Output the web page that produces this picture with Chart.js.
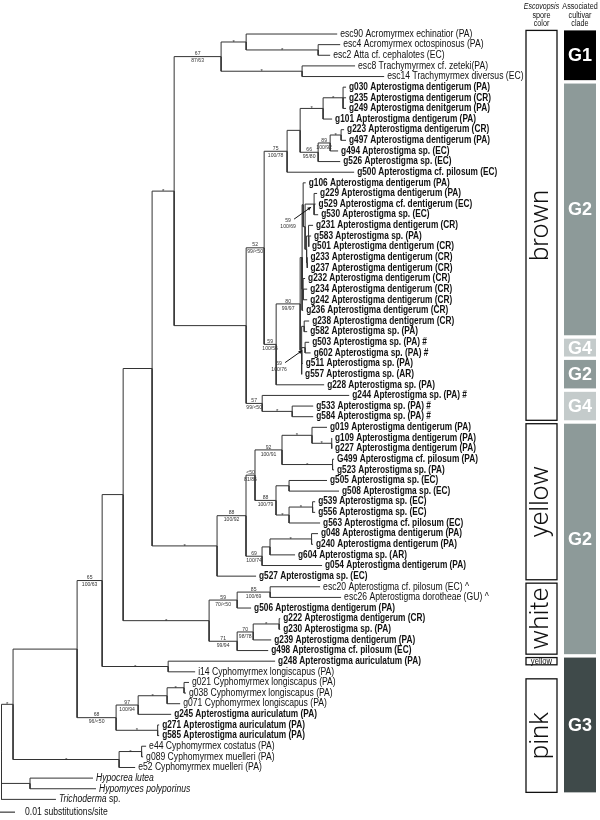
<!DOCTYPE html>
<html>
<head>
<meta charset="utf-8">
<script src="https://cdn.jsdelivr.net/npm/chart.js@4.4.1/dist/chart.umd.min.js"></script>
<style>
  html, body { margin: 0; padding: 0; background: #fff; }
  #tree { display: block; }
</style>
</head>
<body>
<canvas id="tree" width="600" height="820"></canvas>
<script>
// Escovopsis phylogeny with spore colour and cultivar clade columns
// Branch lengths are in substitutions/site

// Leaves, top to bottom
const leafNames = [
  'esc90 Acromyrmex echinatior (PA)', 'esc4 Acromyrmex octospinosus (PA)', 'esc2 Atta cf. cephalotes (EC)',
  'esc8 Trachymyrmex cf. zeteki(PA)', 'esc14 Trachymyrmex diversus (EC)',
  'g030 Apterostigma dentigerum (PA)', 'g235 Apterostigma dentigerum (CR)', 'g249 Apterostigma denitgerum (PA)',
  'g101 Apterostigma dentigerum (PA)', 'g223 Apterostigma dentigerum (CR)', 'g497 Apterostigma dentigerum (PA)',
  'g494 Apterostigma sp. (EC)', 'g526 Apterostigma sp. (EC)', 'g500 Apterostigma cf. pilosum (EC)',
  'g106 Apterostigma dentigerum (PA)', 'g229 Apterostigma dentigerum (PA)', 'g529 Apterostigma cf. dentigerum (EC)',
  'g530 Apterostigma sp. (EC)', 'g231 Apterostigma dentigerum (CR)', 'g583 Apterostigma sp. (PA)',
  'g501 Apterostigma dentigerum (CR)', 'g233 Apterostigma dentigerum (CR)', 'g237 Apterostigma dentigerum (CR)',
  'g232 Apterostigma dentigerum (CR)', 'g234 Apterostigma dentigerum (CR)', 'g242 Apterostigma dentigerum (CR)',
  'g236 Apterostigma dentigerum (CR)', 'g238 Apterostigma dentigerum (CR)', 'g582 Apterostigma sp. (PA)',
  'g503 Apterostigma sp. (PA) #', 'g602 Apterostigma sp. (PA) #', 'g511 Apterostigma sp. (PA)',
  'g557 Apterostigma sp. (AR)', 'g228 Apterostigma sp. (PA)', 'g244 Apterostigma sp. (PA) #',
  'g533 Apterostigma sp. (PA) #', 'g584 Apterostigma sp. (PA) #',
  'g019 Apterostigma dentigerum (PA)', 'g109 Apterostigma dentigerum (PA)', 'g227 Apterostigma dentigerum (PA)',
  'G499 Apterostigma cf. pilosum (PA)', 'g523 Apterostigma sp. (PA)', 'g505 Apterostigma sp. (EC)',
  'g508 Apterostigma sp. (EC)', 'g539 Apterostigma sp. (EC)', 'g556 Apterostigma sp. (EC)',
  'g563 Apterostigma cf. pilosum (EC)', 'g048 Apterostigma dentigerum (PA)', 'g240 Apterostigma dentigerum (PA)',
  'g604 Apterostigma sp. (AR)', 'g054 Apterostigma dentigerum (PA)', 'g527 Apterostigma sp. (EC)',
  'esc20 Apterostigma cf. pilosum (EC) ^', 'esc26 Apterostigma dorotheae (GU) ^', 'g506 Apterostigma dentigerum (PA)',
  'g222 Apterostigma dentigerum (CR)', 'g230 Apterostigma sp. (PA)', 'g239 Apterostigma dentigerum (PA)',
  'g498 Apterostigma cf. pilosum (EC)', 'g248 Apterostigma auriculatum (PA)', 'i14 Cyphomyrmex longiscapus (PA)',
  'g021 Cyphomyrmex longiscapus (PA)', 'g038 Cyphomyrmex longiscapus (PA)', 'g071 Cyphomyrmex longiscapus (PA)',
  'g245 Apterostigma auriculatum (PA)', 'g271 Apterostigma auriculatum (PA)', 'g585 Apterostigma auriculatum (PA)',
  'e44 Cyphomyrmex costatus (PA)', 'g089 Cyphomyrmex muelleri (PA)', 'e52 Cyphomyrmex muelleri (PA)',
  'Hypocrea lutea', 'Hypomyces polyporinus', 'Trichoderma sp.'
];

const leafParents = [
  'H1', 'H1b', 'H1b', 'H2', 'H2',
  'K1a1', 'K1a1', 'K1a1', 'K1a', 'K1b1a', 'K1b1a', 'K1b1', 'K1b', 'K',
  'A1', 'N59', 'N59', 'N59', 'A4', 'A4', 'A4', 'A5', 'A5', 'B1b', 'B1b', 'B1b', 'M1',
  'U1', 'U1', 'N69', 'N69', 'M2', 'M2', 'L', 'J', 'J2', 'J2',
  'Q1', 'Q1b', 'Q1b', 'Q2', 'Q2', 'V1', 'V1', 'V2a', 'V2a', 'V2', 'P1a', 'P1a', 'P1', 'P', 'D1b',
  'S1', 'S1', 'S', 'T1a', 'T1a', 'T1', 'T',
  'E', 'E', 'F2', 'F2', 'F1', 'F', 'G', 'G', 'C1', 'C1', 'C', 'HH', 'HH', 'root'
];

const leafLengths = [
  0.0607, 0.0147, 0.0080, 0.0353, 0.0547,
  0.0020, 0.0020, 0.0020, 0.0060, 0.0020, 0.0033, 0.0053, 0.0147, 0.0447,
  0.0017, 0.0020, 0.0010, 0.0027, 0.0030, 0.0017, 0.0003, 0.0003, 0.0003, 0.0013, 0.0027, 0.0027, 0.0007,
  0.0033, 0.0020, 0.0027, 0.0037, 0.0007, 0.0003, 0.0320, 0.0580, 0.0140, 0.0140,
  0.0100, 0.0003, 0.0003, 0.0010, 0.0010, 0.0253, 0.0333, 0.0017, 0.0017, 0.0207, 0.0043, 0.0010, 0.0167, 0.0400, 0.0260,
  0.0333, 0.0473, 0.0093, 0.0007, 0.0007, 0.0120, 0.0207,
  0.0713, 0.0180, 0.0033, 0.0013, 0.0087, 0.0220, 0.0010, 0.0010, 0.0030, 0.0010, 0.0107, 0.0420, 0.0440, 0.0363
];

// Internal nodes
const nodeIds = [
  'A', 'B', 'B1', 'D', 'D1', 'D1a', 'D1a1', 'H1', 'H1b', 'H2', 'D1a2', 'I', 'K', 'K1', 'K1a', 'K1a1',
  'K1b', 'K1b1', 'K1b1a', 'L', 'M', 'M1', 'A1', 'A2', 'N59', 'A3', 'A4', 'A5', 'B1b', 'M2', 'U1', 'N69',
  'J', 'J2', 'D1b', 'N', 'O', 'Q', 'Q1', 'Q1b', 'Q2', 'V', 'V1', 'V2', 'V2a', 'P', 'P1', 'P1a',
  'D2', 'S', 'S1', 'T', 'T1', 'T1a', 'E', 'B2', 'F', 'F1', 'F2', 'G', 'C', 'C1', 'HH'
];

const nodeParents = [
  'root', 'A', 'B', 'B1', 'D', 'D1', 'D1a', 'D1a1', 'H1', 'D1a1', 'D1a', 'D1a2', 'I', 'K', 'K1', 'K1a',
  'K1', 'K1b', 'K1b1', 'I', 'L', 'M', 'M1', 'A1', 'A2', 'A2', 'A3', 'A3', 'M1', 'M', 'M2', 'M2',
  'D1a2', 'J', 'D1', 'D1b', 'N', 'O', 'Q', 'Q1', 'Q', 'O', 'V', 'V', 'V2', 'N', 'P', 'P1',
  'D', 'D2', 'S', 'D2', 'T', 'T1', 'B1', 'B', 'B2', 'F', 'F1', 'B2', 'A', 'C', 'root'
];

const nodeLengths = [
  0.0077, 0.0427, 0.0167, 0.0140, 0.0193, 0.0147, 0.0313, 0.0167, 0.0480, 0.0540, 0.0480, 0.0120, 0.0153, 0.0087, 0.0153, 0.0133,
  0.0120, 0.0080, 0.0073, 0.0080, 0.0160, 0.0013, 0.0007, 0.0013, 0.0060, 0.0010, 0.0013, 0.0003, 0.0007, 0.0010, 0.0017, 0.0023,
  0.0107, 0.0200, 0.0433, 0.0193, 0.0060, 0.0180, 0.0200, 0.0130, 0.0337, 0.0140, 0.0087, 0.0087, 0.0157, 0.0107, 0.0053, 0.0277,
  0.0573, 0.0187, 0.0220, 0.0187, 0.0107, 0.0173, 0.0440, 0.0260, 0.0147, 0.0193, 0.0113, 0.0277, 0.0707, 0.0150, 0.0190
];

// Support: top = bootstrap / '*', bottom = second pair of values
const supportTop = [
  '*', '', '65', '', '', '*', '67', '*', '*', '*', '', '52', '75', '', '*', '*',
  '66', '89', '*', '59', '80', '', '', '', '59', '', '', '', '', '', '', '69',
  '57', '*', '*', '88', '<50', '92', '*', '*', '*', '88', '', '*', '*', '69', '', '*',
  '*', '59', '85', '71', '70', '*', '*', '68', '97', '*', '*', '*', '*', '*', ''
];

const supportBottom = [
  '', '', '100/63', '', '', '', '87/63', '', '', '', '', '99/<50', '100/78', '', '', '',
  '95/80', '100/92', '', '100/56', '99/97', '', '', '', '100/69', '', '', '', '', '', '', '100/76',
  '99/<50', '', '', '100/92', '81/86', '100/91', '', '', '', '100/79', '', '', '', '100/74', '', '',
  '', '70/<50', '100/69', '99/94', '98/78', '', '', '96/<50', '100/94', '', '', '', '', '', ''
];

// Supports drawn beside the tree with an arrow
const arrowNodes = ['N59', 'N69'];

// Right-hand columns (leaf index ranges)
const sporeColors = ['brown', 'yellow', 'white', 'yellow', 'pink'];
const sporeFirst = [0, 37, 52, 59, 61];
const sporeLast = [36, 51, 58, 59, 71];

const cultivarClades = ['G1', 'G2', 'G4', 'G2', 'G4', 'G2', 'G3'];
const cladeFirst = [0, 5, 29, 31, 34, 37, 59];
const cladeLast = [4, 28, 30, 33, 36, 58, 71];

const scaleBarValue = 0.01;
const scaleBarText = '0.01 substitutions/site';

// ---- build the tree ----
const nodes = { root: { id: 'root', parent: null, len: 0, children: [] } };
nodeIds.forEach((id, i) => {
  nodes[id] = { id, parent: nodeParents[i], len: nodeLengths[i], top: supportTop[i], bottom: supportBottom[i], children: [] };
});
leafNames.forEach((name, i) => {
  nodes['leaf' + i] = { id: 'leaf' + i, parent: leafParents[i], len: leafLengths[i], leaf: i, children: [] };
});
Object.values(nodes).forEach(n => {
  if (n.parent) nodes[n.parent].children.push(n);
});

function setDepth(n, d) {
  n.depth = d + n.len;
  n.children.forEach(c => setDepth(c, n.depth));
}
function setY(n) {
  if (n.leaf !== undefined) {
    n.y = n.leaf;
    return n.y;
  }
  const ys = n.children.map(setY);
  n.y = (Math.min(...ys) + Math.max(...ys)) / 2;
  return n.y;
}
setDepth(nodes.root, 0);
setY(nodes.root);

// One elbow per branch: down the parent's vertical, then across to the child
const datasets = [];
Object.values(nodes).forEach(n => {
  if (!n.parent) return;
  const p = nodes[n.parent];
  datasets.push({
    data: [
      { x: p.depth, y: p.y },
      { x: p.depth, y: n.y },
      { x: n.depth, y: n.y }
    ],
    showLine: true,
    borderColor: '#333',
    borderWidth: 1,
    pointRadius: 0,
    tension: 0
  });
});

// ---- text helpers ----
const SANS = '"Liberation Sans", Arial, sans-serif';

function squeezeText(ctx, text, x, y, font, sx, align) {
  ctx.save();
  ctx.font = font;
  ctx.textAlign = align || 'left';
  ctx.translate(x, y);
  ctx.scale(sx, 1);
  ctx.fillText(text, 0, 0);
  const w = ctx.measureText(text).width * sx;
  ctx.restore();
  return w;
}

const cladeShades = { G1: '#000000', G2: '#8d9a99', G3: '#3f4a4a', G4: '#c4cbcb' };

const treeText = {
  id: 'treeText',
  afterDatasetsDraw(chart) {
    const ctx = chart.ctx;
    const xs = chart.scales.x;
    const ys = chart.scales.y;
    const px = v => xs.getPixelForValue(v);
    const py = v => ys.getPixelForValue(v);

    ctx.save();
    ctx.fillStyle = '#111';
    ctx.textBaseline = 'middle';

    // leaf names
    leafNames.forEach((name, i) => {
      const n = nodes['leaf' + i];
      const x = px(n.depth) + 3;
      const y = py(n.y);
      if (!/^[A-Za-z]+\d+ /.test(name)) {
        if (name.endsWith(' sp.')) {
          const w = squeezeText(ctx, name.slice(0, -4), x, y, 'italic 10px ' + SANS, 0.86);
          squeezeText(ctx, ' sp.', x + w, y, '10px ' + SANS, 0.86);
        } else {
          squeezeText(ctx, name, x, y, 'italic 10px ' + SANS, 0.86);
        }
      } else if (/^[gG]\d+ Apterostigma/.test(name)) {
        squeezeText(ctx, name, x, y, 'bold 10px ' + SANS, 0.83);
      } else {
        squeezeText(ctx, name, x, y, '10px ' + SANS, 0.86);
      }
    });

    // support values
    ctx.fillStyle = '#333';
    nodeIds.forEach(id => {
      const n = nodes[id];
      if (!n.top && !n.bottom) return;
      const p = nodes[n.parent];
      const y = py(n.y);
      if (arrowNodes.includes(id)) {
        const nx = px(n.depth), ny = y;
        ctx.textBaseline = 'middle';
        squeezeText(ctx, n.top, nx - 26, ny + 16, '6px ' + SANS, 0.85, 'center');
        squeezeText(ctx, n.bottom, nx - 26, ny + 22, '6px ' + SANS, 0.85, 'center');
        const x0 = nx - 20, y0 = ny + 15, x1 = nx - 3, y1 = ny + 3;
        ctx.strokeStyle = '#111';
        ctx.lineWidth = 1;
        ctx.beginPath();
        ctx.moveTo(x0, y0);
        ctx.lineTo(x1, y1);
        ctx.stroke();
        const a = Math.atan2(y1 - y0, x1 - x0);
        ctx.beginPath();
        ctx.moveTo(x1, y1);
        ctx.lineTo(x1 - 4 * Math.cos(a - 0.45), y1 - 4 * Math.sin(a - 0.45));
        ctx.lineTo(x1 - 4 * Math.cos(a + 0.45), y1 - 4 * Math.sin(a + 0.45));
        ctx.closePath();
        ctx.fillStyle = '#111';
        ctx.fill();
        ctx.fillStyle = '#333';
        return;
      }
      const mid = (px(p.depth) + px(n.depth)) / 2;
      if (n.top === '*') {
        ctx.textBaseline = 'alphabetic';
        squeezeText(ctx, '*', mid, y + 2, '6px ' + SANS, 1, 'center');
      } else {
        ctx.textBaseline = 'bottom';
        squeezeText(ctx, n.top, mid, y, '6px ' + SANS, 0.85, 'center');
        ctx.textBaseline = 'top';
        squeezeText(ctx, n.bottom, mid, y + 1, '6px ' + SANS, 0.85, 'center');
      }
    });

    // scale bar
    const sy = py(73.2);
    const bar = px(scaleBarValue) - px(0);
    ctx.strokeStyle = '#111';
    ctx.lineWidth = 1;
    ctx.beginPath();
    ctx.moveTo(xs.left, sy);
    ctx.lineTo(xs.left + bar, sy);
    ctx.stroke();
    ctx.fillStyle = '#111';
    ctx.textBaseline = 'middle';
    squeezeText(ctx, scaleBarText, xs.left + 25, sy, '10px ' + SANS, 0.86);

    // right-hand columns
    const sporeX = 526, sporeW = 31, cladeX = 564, cladeW = 32, pad = 0.34;

    ctx.textBaseline = 'middle';
    squeezeText(ctx, 'Escovopsis', sporeX + sporeW / 2, 7, 'italic 8.5px ' + SANS, 0.82, 'center');
    squeezeText(ctx, 'spore', sporeX + sporeW / 2, 15.5, '8.5px ' + SANS, 0.85, 'center');
    squeezeText(ctx, 'color', sporeX + sporeW / 2, 24, '8.5px ' + SANS, 0.85, 'center');
    squeezeText(ctx, 'Associated', cladeX + cladeW / 2, 7, '8.5px ' + SANS, 0.85, 'center');
    squeezeText(ctx, 'cultivar', cladeX + cladeW / 2, 15.5, '8.5px ' + SANS, 0.85, 'center');
    squeezeText(ctx, 'clade', cladeX + cladeW / 2, 24, '8.5px ' + SANS, 0.85, 'center');

    sporeColors.forEach((label, i) => {
      const top = py(sporeFirst[i] - pad);
      const bottom = py(sporeLast[i] + pad);
      ctx.strokeStyle = '#111';
      ctx.lineWidth = 1.3;
      ctx.strokeRect(sporeX, top, sporeW, bottom - top);
      ctx.fillStyle = '#111';
      const cx = sporeX + sporeW / 2, cy = (top + bottom) / 2;
      if (bottom - top > 40) {
        ctx.save();
        ctx.translate(cx, cy);
        ctx.rotate(-Math.PI / 2);
        ctx.font = '300 26px Roboto, ' + SANS;
        ctx.textAlign = 'center';
        ctx.textBaseline = 'middle';
        ctx.fillText(label, 0, 0);
        ctx.restore();
      } else {
        squeezeText(ctx, label, cx, cy, '9px ' + SANS, 0.85, 'center');
      }
    });

    cultivarClades.forEach((label, i) => {
      const top = py(cladeFirst[i] - pad);
      const bottom = py(cladeLast[i] + pad);
      ctx.fillStyle = cladeShades[label];
      ctx.fillRect(cladeX, top, cladeW, bottom - top);
      ctx.fillStyle = '#fff';
      squeezeText(ctx, label, cladeX + cladeW / 2, (top + bottom) / 2 + 1, 'bold 18px ' + SANS, 1, 'center');
    });

    ctx.restore();
  }
};

new Chart(document.getElementById('tree'), {
  type: 'scatter',
  data: { datasets },
  options: {
    responsive: false,
    animation: false,
    devicePixelRatio: 1,
    events: [],
    layout: { padding: 0 },
    scales: {
      x: { type: 'linear', min: -0.001, max: 0.399, display: false },
      y: { type: 'linear', reverse: true, min: -3.2, max: 73.94, display: false }
    },
    plugins: {
      legend: { display: false },
      tooltip: { enabled: false }
    }
  },
  plugins: [treeText]
});
</script>
</body>
</html>
